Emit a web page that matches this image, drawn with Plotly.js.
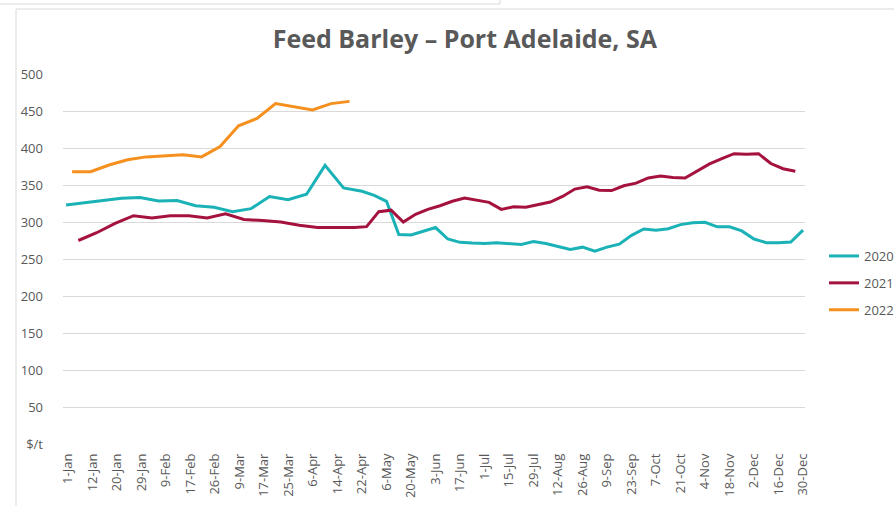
<!DOCTYPE html>
<html>
<head>
<meta charset="utf-8">
<script src="https://cdn.plot.ly/plotly-3.0.1.min.js"></script>
<style>
html,body{margin:0;padding:0;background:#fff;}
#chart{width:894px;height:506px;}
</style>
</head>
<body>
<div id="chart"></div>
<script>
// Category tick labels (every other category position)
const tickLabels = ['1-Jan','12-Jan','20-Jan','29-Jan','9-Feb','17-Feb','26-Feb','9-Mar','17-Mar','25-Mar','6-Apr','14-Apr','22-Apr','6-May','20-May','3-Jun','17-Jun','1-Jul','15-Jul','29-Jul','12-Aug','26-Aug','9-Sep','23-Sep','7-Oct','21-Oct','4-Nov','18-Nov','2-Dec','16-Dec','30-Dec'];

// Series names
const seriesNames = ['2020','2021','2022'];

// 2020 ($/t) — x in category units
const x2020 = [-0.16,1.35,2.86,4.37,5.88,7.39,8.9,10.41,11.92,13.43,14.94,16.45,17.96,19.47,20.98,22.49,24,
  25,26,27,28,29,30,31,32,33,34,35,36,37,38,39,40,41,42,43,44,45,46,47,48,49,50,51,52,53,54,55,56,57,58,59,60];
const y2020 = [323,325.5,329,332,333,328.5,329,322,320,314,318,334.5,330,337.5,376.5,346,341.5,
  336,328,283,282.5,287.5,292.5,277,272.5,271.5,271,272,271,269.5,273.5,271,267,263,266,260.5,266,
  270,282,290.5,289,291,296.5,299,299.5,293.5,293.5,288,277,272,272,273,289];

// 2021 ($/t)
const x2021 = [0.84,2.34,3.84,5.35,6.85,8.35,9.86,11.36,12.86,14.36,15.87,17.37,18.87,20.37,21.88,23.38,
  24.37,25.37,26.37,27.37,28.37,29.37,30.37,31.37,32.37,33.37,34.37,35.37,36.37,37.37,38.37,39.37,40.37,41.37,
  42.37,43.37,44.37,45.37,46.37,47.37,48.37,49.37,50.37,51.37,52.37,53.37,54.37,55.37,56.37,57.37,58.37,59.37];
const y2021 = [275,285.5,298,308.5,305.5,308.5,308.5,305.5,311,303.5,302,300,295.5,292.5,292.5,292.5,
  293.7,314,316,300,310.5,317,322,328,332.5,329,326.5,317,320.5,320,323,327,334.5,344.5,347.5,343,
  342.5,349,352.5,359.5,362,360,359.5,369,378.5,385.5,392.3,391.5,392.3,379,372,368.6];

// 2022 ($/t)
const x2022 = [0.33,1.84,3.35,4.86,6.37,7.88,9.39,10.9,12.41,13.92,15.43,16.94,18.45,19.96,21.47,22.98];
const y2022 = [368,368,377,384,388,390,391,388,402,430,440,460,456,451.5,460,463];

// y-axis ticks
const yTickVals = [0,50,100,150,200,250,300,350,400,450,500];
const yTickText = ['$/t','50','100','150','200','250','300','350','400','450','500'];

const colors = ['#1BB2B7','#A5123D','#F5901E'];
const font = "'Open Sans', sans-serif";
const gray = '#595959';

const xs = [x2020, x2021, x2022];
const ys = [y2020, y2021, y2022];
const traces = seriesNames.map((n, i) => ({
  type: 'scatter', mode: 'lines', name: n, x: xs[i], y: ys[i],
  line: {color: colors[i], width: 3}, legendgroup: 'g' + i, hoverinfo: 'skip'
}));

// helpers for decorative frame lines (pixel -> paper)
const L = 63, R = 805, T = 74, B = 444;
const px = v => (v - L) / (R - L);
const py = v => (B - v) / (B - T);

const layout = {
  width: 894, height: 506,
  margin: {l: L, r: 894 - R, t: T, b: 506 - B, pad: 0, autoexpand: false},
  paper_bgcolor: '#ffffff', plot_bgcolor: '#ffffff',
  title: {text: 'Feed Barley – Port Adelaide, SA', xref: 'container', x: 0.52, xanchor: 'center',
          yref: 'container', y: 0.922, yanchor: 'middle',
          font: {family: "'Open Sans', sans-serif", size: 25, color: gray, weight: 700}},
  xaxis: {
    range: [-0.41, 60.16], tickmode: 'array',
    tickvals: tickLabels.map((_, i) => i * 2), ticktext: tickLabels,
    tickangle: -90, showgrid: false, zeroline: false, showline: false, ticks: '',
    ticklabelstandoff: 6, automargin: false,
    tickfont: {family: font, size: 13, color: gray}
  },
  yaxis: {
    range: [0, 500], tickmode: 'array', tickvals: yTickVals, ticktext: yTickText,
    showgrid: true, gridcolor: '#d9d9d9', gridwidth: 1, zeroline: false, showline: false, ticks: '',
    ticklabelstandoff: 19, automargin: false,
    tickfont: {family: font, size: 13, color: gray}
  },
  showlegend: true,
  legend: {x: px(824), xanchor: 'left', y: py(241), yanchor: 'top', xref: 'paper', yref: 'paper',
           traceorder: 'grouped', tracegroupgap: 7, bgcolor: 'rgba(0,0,0,0)',
           font: {family: font, size: 13, color: gray}},
  shapes: [
    {type: 'line', xref: 'paper', yref: 'paper', x0: px(0), x1: px(500), y0: py(4), y1: py(4), line: {color: '#d9d9d9', width: 1}},
    {type: 'line', xref: 'paper', yref: 'paper', x0: px(500), x1: px(500), y0: py(0), y1: py(4), line: {color: '#d9d9d9', width: 1}},
    {type: 'line', xref: 'paper', yref: 'paper', x0: px(16), x1: px(894), y0: py(9), y1: py(9), line: {color: '#d9d9d9', width: 1}},
    {type: 'line', xref: 'paper', yref: 'paper', x0: px(16), x1: px(16), y0: py(9), y1: py(506), line: {color: '#d9d9d9', width: 1}}
  ]
};

Plotly.newPlot('chart', traces, layout, {displayModeBar: false, staticPlot: true});
</script>
</body>
</html>
